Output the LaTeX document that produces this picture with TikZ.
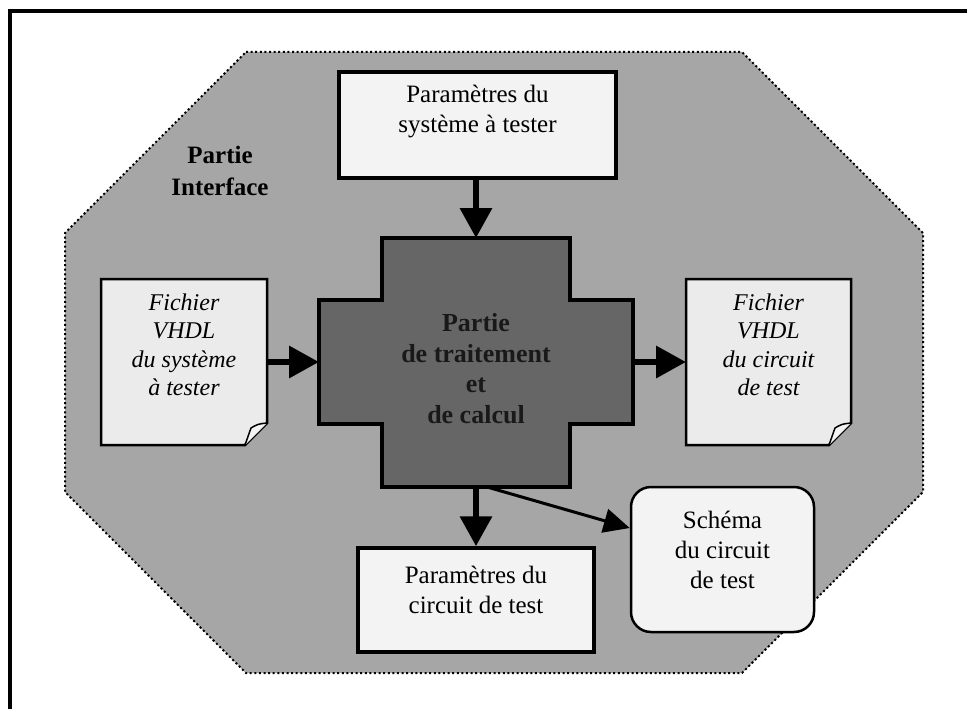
\documentclass[tikz,border=0pt]{standalone}
\usepackage{fontspec}
\setmainfont{Liberation Serif}
\usetikzlibrary{arrows.meta,calc,positioning}
\definecolor{InterfaceGray}{HTML}{A6A6A6}
\definecolor{CoreGray}{HTML}{666666}
\definecolor{PaperWhite}{HTML}{F3F3F3}
\definecolor{FileGray}{HTML}{EBEBEB}

\begin{document}
\begin{tikzpicture}[x=1pt,y=-1pt,font=\fontsize{25}{30}\selectfont,
  paperbox/.style={draw,line width=3.5pt,fill=PaperWhite,inner sep=0pt},
  blank/.style={inner sep=0pt,outer sep=0pt},
  doctext/.style={align=center,font=\itshape\fontsize{24}{28.5}\selectfont},
  bigarrow/.style={line width=6.5pt,-{Triangle[length=30pt,width=31pt]}},
  thinarrow/.style={line width=3pt,-{Triangle[length=26pt,width=24pt]}}]
  \useasboundingbox (0,0) rectangle (967,709);
  % outer frame, cut by the page
  \draw[line width=4pt] (10,709) -- (10,11) -- (967,11);
  % interface part
  \filldraw[fill=InterfaceGray,line width=2pt,dash pattern=on 2pt off 2.6pt]
    (246,52) -- (742,52) -- (923,233) -- (923,492) -- (742,673)
    -- (246,673) -- (65,492) -- (65,233) -- cycle;
  \node[font=\bfseries\fontsize{25}{32}\selectfont,align=center] (iface) at (220,171) {Partie\\Interface};

  % processing part
  \node[blank,minimum width=188,minimum height=249] (core) at (476,362.5) {};
  \node[blank,minimum width=314,minimum height=124] (corebar) at (476,362) {};
  \filldraw[fill=CoreGray,line width=4pt]
    (core.north west) -- (core.north east) -- (core.north east |- corebar.north)
    -- (corebar.north east) -- (corebar.south east) -- (core.south east |- corebar.south)
    -- (core.south east) -- (core.south west) -- (core.south west |- corebar.south)
    -- (corebar.south west) -- (corebar.north west) -- (core.north west |- corebar.north) -- cycle;
  \node[align=center,font=\bfseries\fontsize{26}{30.5}\selectfont,text=black!90,yshift=-6pt] at (core) {Partie\\de traitement\\et\\de calcul};

  % parameters
  \node[paperbox,minimum width=277,minimum height=106] (sysparam) at (477.5,125) {};
  \node[align=center,yshift=13pt] at (sysparam) {Paramètres du\\système à tester};
  \node[paperbox,minimum width=236,minimum height=104] (testparam) at (476,600) {};
  \node[align=center,yshift=10pt] at (testparam) {Paramètres du\\circuit de test};
  \node[draw,line width=2.5pt,fill=PaperWhite,rounded corners=20pt,minimum width=183,minimum height=145] (schema) at (722.5,559.5) {};
  \node[align=center,yshift=10pt] at (schema) {Schéma\\du circuit\\de test};

  % VHDL files
  \node[blank,minimum width=166,minimum height=166] (vhdlin) at (184,362) {};
  \node[blank,minimum width=165,minimum height=166] (vhdlout) at (768.5,362) {};
  \foreach \f in {vhdlin,vhdlout} {
    \filldraw[fill=FileGray,line width=2.5pt] (\f.north west) -- (\f.north east)
      -- ([yshift=22pt]\f.south east) -- ([xshift=-22pt]\f.south east) -- (\f.south west) -- cycle;
    \filldraw[fill=PaperWhite,line width=1.5pt] ([xshift=-22pt]\f.south east)
      -- ([xshift=-16pt,yshift=17pt]\f.south east) .. controls ([xshift=-9pt,yshift=21pt]\f.south east) .. ([yshift=22pt]\f.south east);
  }
  \node[doctext,yshift=17pt] at (vhdlin) {Fichier\\VHDL\\du système\\à tester};
  \node[doctext,yshift=17pt] at (vhdlout) {Fichier\\VHDL\\du circuit\\de test};

  % flows
  \draw[bigarrow] (vhdlin.east) -- (corebar.west);
  \draw[bigarrow] (corebar.east) -- (vhdlout.west);
  \draw[bigarrow] (core.north |- sysparam.south) -- (core.north);
  \draw[bigarrow] (core.south) -- (testparam.north);
  \draw[thinarrow] ([xshift=11pt]core.south) -- ([yshift=31.5pt]schema.west);
\end{tikzpicture}
\end{document}
